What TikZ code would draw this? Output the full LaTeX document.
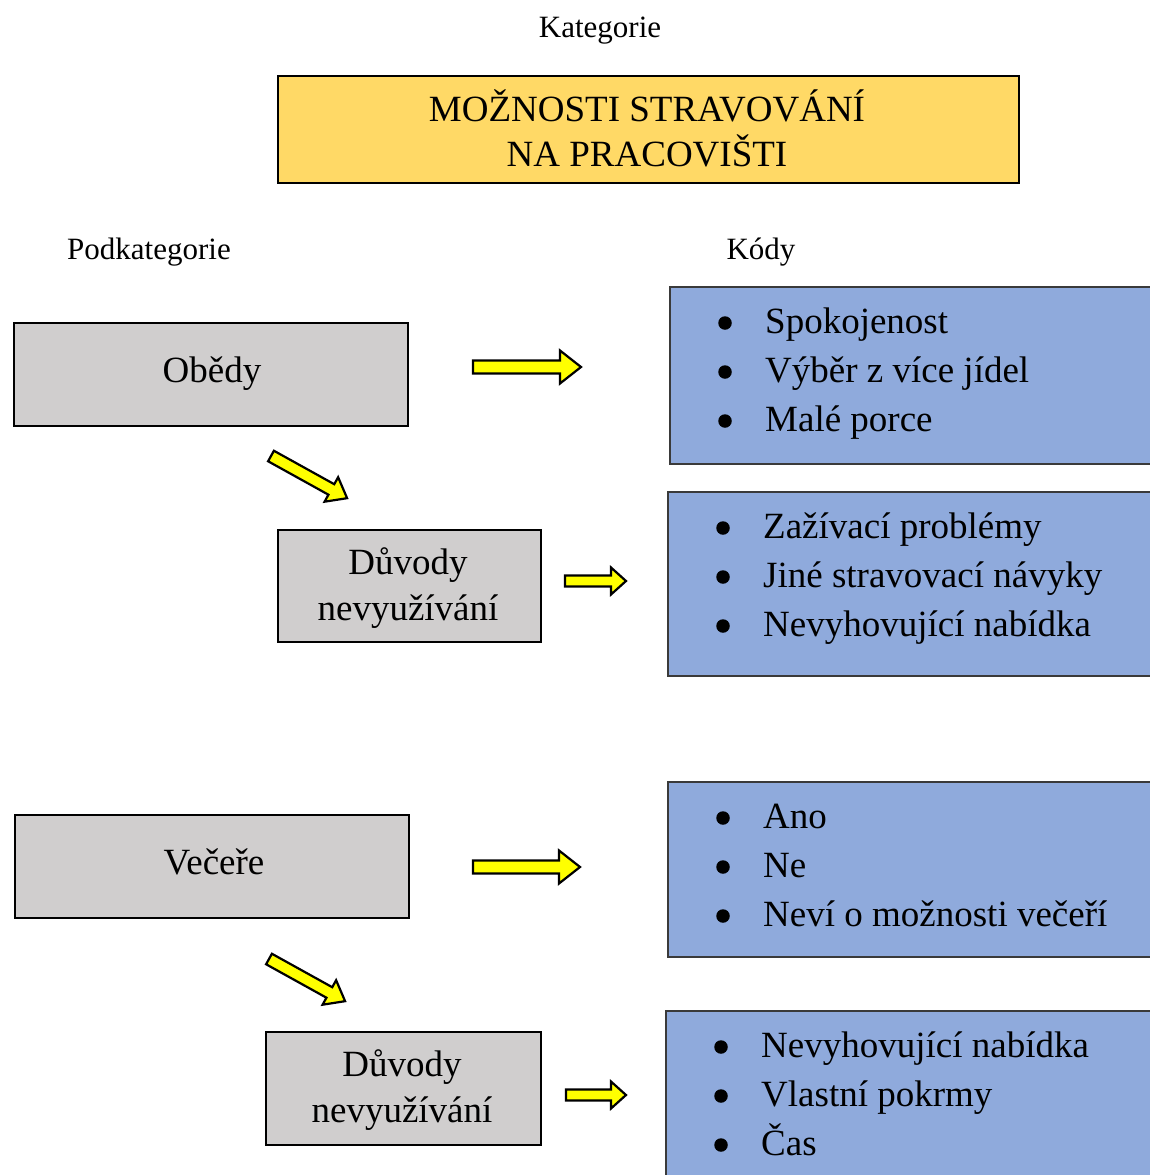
\documentclass[tikz,border=0pt]{standalone}
\usepackage{fontspec}
\setmainfont{Liberation Serif}
\definecolor{titlefill}{HTML}{FFD966}
\definecolor{subgray}{HTML}{D0CECE}
\definecolor{codeblue}{HTML}{8FAADC}
\definecolor{codeedge}{HTML}{3A3A3A}
\definecolor{arrowyellow}{HTML}{FFFF00}
\begin{document}
\begin{tikzpicture}[x=1pt,y=-1pt,
  catbox/.style={draw=black, line width=1.8pt, fill=titlefill, anchor=north west, inner sep=0},
  subbox/.style={draw=black, line width=1.8pt, fill=subgray, anchor=north west, inner sep=0},
  codebox/.style={draw=codeedge, line width=1.6pt, fill=codeblue, anchor=north west, inner sep=0},
  lbl/.style={font=\fontsize{31}{36}\selectfont, anchor=base, inner sep=0},
  txt/.style={font=\fontsize{37}{46}\selectfont, anchor=base, inner sep=0},
  item/.style={font=\fontsize{37}{46}\selectfont, anchor=base west, inner sep=0},
  dot/.style={circle, fill=black, draw=none, minimum size=13.5, inner sep=0},
  arrowbody/.style={draw=black, line width=2.2pt, fill=arrowyellow, line join=miter},
  pics/yarrow/.style n args={4}{code={
    \draw[arrowbody] (0,-#3) -- ({#1-#2},-#3) -- ({#1-#2},-#4) -- (#1,0)
      -- ({#1-#2},#4) -- ({#1-#2},#3) -- (0,#3) -- cycle;}}
]
\clip (0,0) rectangle (1150,1175);
\fill[white] (0,0) rectangle (1150,1175);

% headings
\node[lbl] (kat) at (600,37) {Kategorie};
\node[lbl] (podkat) at (149,259) {Podkategorie};
\node[lbl] (kody) at (761,259) {Kódy};

% category
\node[catbox, minimum width=741, minimum height=107] (cat) at (277,75) {};
\node[txt] (cat1) at (647,121) {MOŽNOSTI STRAVOVÁNÍ};
\node[txt] (cat2) at (647,166) {NA PRACOVIŠTI};

% subcategories
\node[subbox, minimum width=394, minimum height=103] (obedy) at (13,322) {};
\node[txt] (obedyt) at (212,382) {Obědy};
\node[subbox, minimum width=263, minimum height=112] (duv1) at (277,529) {};
\node[txt] (duv1a) at (408,574) {Důvody};
\node[txt] (duv1b) at (408,620) {nevyužívání};
\node[subbox, minimum width=394, minimum height=103] (vecere) at (14,814) {};
\node[txt] (vecet) at (214,874) {Večeře};
\node[subbox, minimum width=275, minimum height=113] (duv2) at (265,1031) {};
\node[txt] (duv2a) at (402,1076) {Důvody};
\node[txt] (duv2b) at (402,1122) {nevyužívání};

% codes
\node[codebox, minimum width=491, minimum height=177] (k1) at (669,286) {};
\node[dot] (k1d1) at (725,323) {};
\node[item] (k1t1) at (765,333) {Spokojenost};
\node[dot] (k1d2) at (725,372) {};
\node[item] (k1t2) at (765,382) {Výběr z více jídel};
\node[dot] (k1d3) at (725,421) {};
\node[item] (k1t3) at (765,431) {Malé porce};

\node[codebox, minimum width=493, minimum height=184] (k2) at (667,491) {};
\node[dot] (k2d1) at (723,528) {};
\node[item] (k2t1) at (763,538) {Zažívací problémy};
\node[dot] (k2d2) at (723,577) {};
\node[item] (k2t2) at (763,587) {Jiné stravovací návyky};
\node[dot] (k2d3) at (723,626) {};
\node[item] (k2t3) at (763,636) {Nevyhovující nabídka};

\node[codebox, minimum width=493, minimum height=175] (k3) at (667,781) {};
\node[dot] (k3d1) at (723,818) {};
\node[item] (k3t1) at (763,828) {Ano};
\node[dot] (k3d2) at (723,867) {};
\node[item] (k3t2) at (763,877) {Ne};
\node[dot] (k3d3) at (723,916) {};
\node[item] (k3t3) at (763,926) {Neví o možnosti večeří};

\node[codebox, minimum width=495, minimum height=190] (k4) at (665,1010) {};
\node[dot] (k4d1) at (721,1047) {};
\node[item] (k4t1) at (761,1057) {Nevyhovující nabídka};
\node[dot] (k4d2) at (721,1096) {};
\node[item] (k4t2) at (761,1106) {Vlastní pokrmy};
\node[dot] (k4d3) at (721,1145) {};
\node[item] (k4t3) at (761,1155) {Čas};

% block arrows
\pic at (473,367) {yarrow={108}{21}{6.5}{16.5}};
\pic at (565,581) {yarrow={61}{15}{5.5}{13.5}};
\pic at (473,867) {yarrow={107}{21}{6.5}{16.5}};
\pic at (566,1095) {yarrow={60}{15}{5.5}{13.5}};
\pic[rotate=-29] at (271,456) {yarrow={87}{18}{6}{14}};
\pic[rotate=-29] at (269,959) {yarrow={87}{18}{6}{14}};
\end{tikzpicture}
\end{document}
